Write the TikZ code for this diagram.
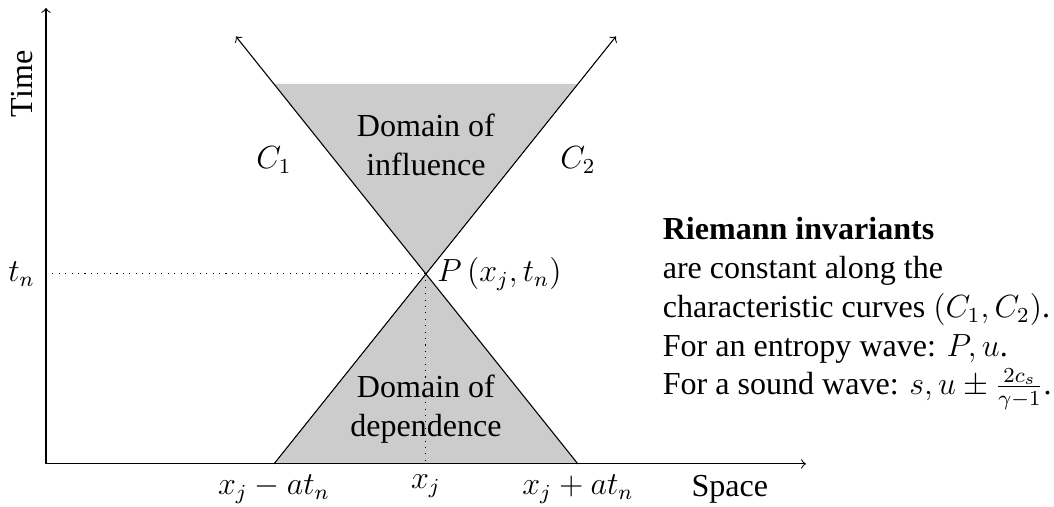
\documentclass[tikz,border=0pt,12pt]{standalone}
\usepackage{amsmath}
\usepackage{fontspec}
\setmainfont{Liberation Serif}
\usetikzlibrary{calc}

\begin{document}
\begin{tikzpicture}[x=0.5cm,y=0.5cm]
    \useasboundingbox (-1.21,-1.13) rectangle (26.53,12.21);
    % named points
    \coordinate (O) at (0,0);
    \coordinate (P) at (10,5);
    \coordinate (L) at (6,0);
    \coordinate (R) at (14,0);
    \coordinate (TL) at (6,10);
    \coordinate (TR) at (14,10);
    \coordinate (EL) at (5,11.25);
    \coordinate (ER) at (15,11.25);
    \coordinate (Xend) at (20,0);
    \coordinate (Yend) at (0,12);
    \coordinate (Tn) at (0,5);
    \coordinate (Xj) at (10,0);

    % domains
    \fill[gray!40] (L) -- (R) -- (P) -- cycle;
    \fill[gray!40] (TL) -- (TR) -- (P) -- cycle;

    % axes
    \draw[->] (O) -- (Xend);
    \draw[->] (O) -- (Yend);
    \node[rotate=90] (time) at (-0.63,10) {Time};
    \node[below] (space) at (18,0) {Space};

    % characteristics
    \draw[->] (L) -- (ER);
    \draw[->] (R) -- (EL);
    \node (c1) at (6,8) {$C_1$};
    \node (c2) at (14,8) {$C_2$};

    % point P
    \draw[dotted] (Tn) -- (P);
    \draw[dotted] (P) -- (Xj);
    \node[left] (tn) at (Tn) {$t_n$};
    \node[right] (plab) at (P) {$P\,(x_j,t_n)$};
    \foreach \pt/\lab in {L/x_j-at_n,Xj/x_j,R/x_j+at_n}{
        \node[below] (lab\pt) at (\pt) {$\lab$};
    }

    \node[align=center] (infl) at (10,8.4) {Domain of\\influence};
    \node[align=center] (dep) at (10,1.45) {Domain of\\dependence};

    \node[anchor=west,align=left,inner sep=2pt] (riem) at (16.08,3.95) {\textbf{Riemann invariants}\\
        are constant along the\\
        characteristic curves $(C_1,C_2)$.\\
        For an entropy wave: $P,u$.\\
        For a sound wave: $s,u\pm\frac{2c_s}{\gamma-1}$.};
\end{tikzpicture}
\end{document}
